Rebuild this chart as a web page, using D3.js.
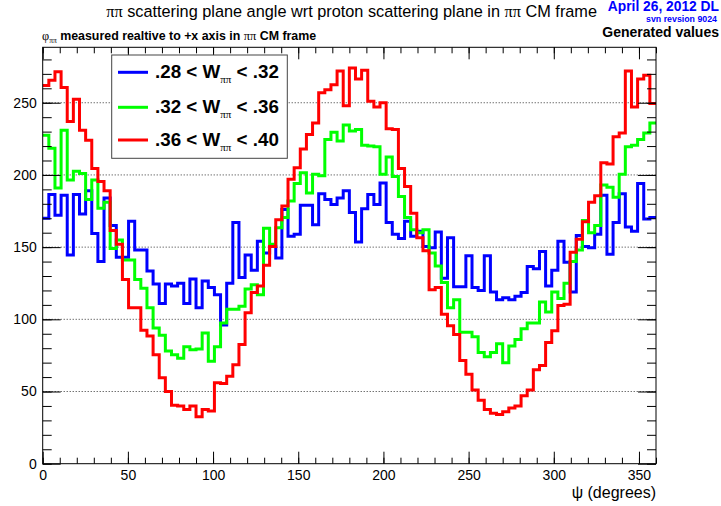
<!DOCTYPE html>
<html>
<head>
<meta charset="utf-8">
<script src="https://cdn.jsdelivr.net/npm/d3@7"></script>
<style>
  body { margin: 0; background: #fff; }
  svg { display: block; font-family: "Liberation Sans", Arial, sans-serif; }
  .axis text { font-size: 14px; fill: #000; }
  .axis line { stroke: #000; }
</style>
</head>
<body>
<script>
// 100 bins of 3.6 degrees, psi from 0 to 360
const nBins = 100
const binWidth = 3.6

const seriesNames = [".28 < W", ".32 < W", ".36 < W"]
const seriesUpper = [" < .32", " < .36", " < .40"]
const seriesColors = ["#0000ff", "#00ff00", "#ff0000"]

const blueCounts = [
  170, 186.5, 172, 186, 144.5, 186.5, 173, 189, 159.5, 140,
  184, 165, 143, 143, 168, 148, 148, 133.5, 124.5, 111,
  124.5, 123, 125, 111, 128, 108, 126.5, 122, 117, 96,
  125, 167, 129, 144.5, 134, 154, 146, 150.5, 142.5, 176,
  157.5, 159, 179, 179, 165.5, 187, 183, 179.5, 184, 189,
  174, 153.5, 176.5, 186.5, 179.5, 194.5, 167, 159, 156, 168,
  157.5, 161, 150.5, 149.5, 160.5, 128.5, 156.5, 122.5, 122.5, 144,
  122, 120, 144, 119, 113.5, 115, 113.5, 116, 118.5, 136.5,
  135, 147, 123, 134, 154, 139.5, 119, 158, 150.5, 149.5,
  159, 186, 145, 167, 187, 164, 161, 194, 169.5, 170.5
]
const greenCounts = [
  227.5, 218.5, 191, 231, 196.5, 202.5, 201, 183, 196.5, 177,
  181, 149, 155, 141, 141, 127.5, 121.5, 108, 94, 89,
  78, 75.5, 73, 81, 79, 79.5, 90.5, 71, 81, 97.5,
  107, 107, 109, 121, 124, 117, 163, 152, 163.5, 170.5,
  182, 194, 201.5, 187.5, 200.5, 199.5, 224.5, 229.5, 223.5, 234.5,
  230.5, 231.5, 220.5, 220, 219.5, 200.5, 212.5, 199, 185, 170.5,
  162, 160, 162, 146, 137, 125.5, 108, 113.5, 91, 91,
  88, 77, 74, 77, 83, 70, 81.5, 86, 93.5, 97.5,
  97.5, 112, 105, 119, 114.5, 125, 140, 148, 168.5, 160,
  165, 193, 191.5, 184.5, 200.5, 219.5, 220.5, 224.5, 229, 236
]
const redCounts = [
  262, 265.5, 271.5, 260.5, 237, 252.5, 231, 224, 204.5, 195.5,
  189, 161.5, 152, 127.5, 108, 108, 92.5, 88.5, 75.5, 59.5,
  50, 40.5, 40, 37.5, 40, 32.5, 37.5, 36.5, 56, 55.5,
  60.5, 68.5, 82.5, 104.5, 118.5, 123, 137.5, 150.5, 169, 178.5,
  197, 205, 218, 228, 236, 257, 259, 262.5, 272, 248,
  274, 266.5, 272.5, 251, 247, 250, 232, 231.5, 204.5, 192,
  173.5, 156.5, 147.5, 120.5, 122, 103.5, 95.5, 89.5, 71.5, 62,
  51, 44, 37.5, 35, 34, 36, 38.5, 40, 47, 51,
  65, 68, 84, 92, 109.5, 110.5, 146.5, 155.5, 167.5, 181,
  185.5, 208.5, 207.5, 226.5, 229, 272, 247, 266.5, 269, 249.5
]

const xMajorTicks = [0, 50, 100, 150, 200, 250, 300, 350]
const yMajorTicks = [0, 50, 100, 150, 200, 250]
const yGridValues = [50, 100, 150, 200, 250]

var W = 721, H = 506
var frame = { left: 42.7, right: 656, top: 47.3, bottom: 463.7 }

var svg = d3.select("body").append("svg")
    .attr("width", W)
    .attr("height", H)

var x = d3.scaleLinear().domain([0, 360]).range([frame.left, frame.right])
var y = d3.scaleLinear().domain([0, 288.4]).range([frame.bottom, frame.top])

// dotted horizontal grid
svg.append("g").selectAll("line")
    .data(yGridValues)
    .enter().append("line")
    .attr("x1", frame.left).attr("x2", frame.right)
    .attr("y1", d => y(d)).attr("y2", d => y(d))
    .attr("stroke", "#333")
    .attr("stroke-width", 1)
    .attr("stroke-dasharray", "1,2")

// histograms as step lines
var step = d3.line()
    .x(d => x(d[0]))
    .y(d => y(d[1]))
    .curve(d3.curveStepAfter)

function binPoints(counts) {
    var pts = counts.map((c, i) => [i * binWidth, c])
    pts.push([nBins * binWidth, counts[counts.length - 1]])
    return pts
}

;[blueCounts, greenCounts, redCounts].forEach((counts, i) => {
    svg.append("path")
        .datum(binPoints(counts))
        .attr("fill", "none")
        .attr("stroke", seriesColors[i])
        .attr("stroke-width", 3)
        .attr("d", step)
})

// axes, ticks point inward like ROOT
function clean(g) { g.select(".domain").remove() }

svg.append("g")
    .attr("class", "axis")
    .attr("transform", "translate(0," + frame.bottom + ")")
    .call(d3.axisBottom(x).tickValues(d3.range(0, 361, 10)).tickSize(-6).tickFormat(""))
    .call(clean)
svg.append("g")
    .attr("class", "axis")
    .attr("transform", "translate(0," + frame.bottom + ")")
    .call(d3.axisBottom(x).tickValues(xMajorTicks).tickSize(-12).tickPadding(6))
    .call(clean)
svg.append("g")
    .attr("class", "axis")
    .attr("transform", "translate(0," + frame.top + ")")
    .call(d3.axisTop(x).tickValues(d3.range(0, 361, 10)).tickSize(-6).tickFormat(""))
    .call(clean)
svg.append("g")
    .attr("class", "axis")
    .attr("transform", "translate(0," + frame.top + ")")
    .call(d3.axisTop(x).tickValues(xMajorTicks).tickSize(-12).tickFormat(""))
    .call(clean)

svg.append("g")
    .attr("class", "axis")
    .attr("transform", "translate(" + frame.left + ",0)")
    .call(d3.axisLeft(y).tickValues(d3.range(0, 281, 10)).tickSize(-9).tickFormat(""))
    .call(clean)
svg.append("g")
    .attr("class", "axis")
    .attr("transform", "translate(" + frame.left + ",0)")
    .call(d3.axisLeft(y).tickValues(yMajorTicks).tickSize(-18).tickPadding(6))
    .call(clean)
svg.append("g")
    .attr("class", "axis")
    .attr("transform", "translate(" + frame.right + ",0)")
    .call(d3.axisRight(y).tickValues(d3.range(0, 281, 10)).tickSize(-9).tickFormat(""))
    .call(clean)
svg.append("g")
    .attr("class", "axis")
    .attr("transform", "translate(" + frame.right + ",0)")
    .call(d3.axisRight(y).tickValues(yMajorTicks).tickSize(-18).tickFormat(""))
    .call(clean)

// frame
svg.append("rect")
    .attr("x", frame.left).attr("y", frame.top)
    .attr("width", frame.right - frame.left)
    .attr("height", frame.bottom - frame.top)
    .attr("fill", "none")
    .attr("stroke", "#000")
    .attr("stroke-width", 1)

// x axis title
svg.append("text")
    .attr("x", frame.right).attr("y", 498)
    .attr("text-anchor", "end")
    .attr("font-size", 16)
    .text("\u03c8 (degrees)")

// main title
var title = svg.append("text")
    .attr("x", 597).attr("y", 17)
    .attr("text-anchor", "end")
    .attr("font-size", 16.3)
title.append("tspan").attr("font-family", "Liberation Serif, serif").text("\u03c0\u03c0")
title.append("tspan").text(" scattering plane angle wrt proton scattering plane in ")
title.append("tspan").attr("font-family", "Liberation Serif, serif").text("\u03c0\u03c0")
title.append("tspan").text(" CM frame")

// y axis title (top left)
var ytitle = svg.append("text")
    .attr("x", 42).attr("y", 40)
    .attr("font-size", 12.4)
    .attr("font-weight", "bold")
ytitle.append("tspan").attr("font-family", "Liberation Serif, serif").attr("font-weight", "normal").text("\u03c6")
ytitle.append("tspan").attr("dy", 3).attr("font-size", 7.5).attr("font-family", "Liberation Serif, serif").attr("font-weight", "normal").text("\u03c0\u03c0")
ytitle.append("tspan").attr("dy", -3).text(" measured realtive to +x axis in ")
ytitle.append("tspan").attr("font-family", "Liberation Serif, serif").attr("font-weight", "normal").text("\u03c0\u03c0")
ytitle.append("tspan").text(" CM frame")

// date stamp
svg.append("text")
    .attr("x", 719).attr("y", 11)
    .attr("text-anchor", "end")
    .attr("font-size", 13.8).attr("font-weight", "bold")
    .attr("fill", "#0000ff")
    .text("April 26, 2012 DL")
svg.append("text")
    .attr("x", 717).attr("y", 22.2)
    .attr("text-anchor", "end")
    .attr("font-size", 8.8).attr("font-weight", "bold")
    .attr("fill", "#0000ff")
    .text("svn revsion 9024")
svg.append("text")
    .attr("x", 719).attr("y", 37)
    .attr("text-anchor", "end")
    .attr("font-size", 14).attr("font-weight", "bold")
    .text("Generated values")

// legend
var legend = { x: 111.7, y: 55, w: 175.6, h: 103.3 }
svg.append("rect")
    .attr("x", legend.x).attr("y", legend.y)
    .attr("width", legend.w).attr("height", legend.h)
    .attr("fill", "#fff")
    .attr("stroke", "#444")
    .attr("stroke-width", 1)

var rowY = [72.3, 107.3, 140]
seriesNames.forEach((name, i) => {
    svg.append("line")
        .attr("x1", 118).attr("x2", 148)
        .attr("y1", rowY[i]).attr("y2", rowY[i])
        .attr("stroke", seriesColors[i])
        .attr("stroke-width", 3)
    var t = svg.append("text")
        .attr("x", 155).attr("y", rowY[i] + 6)
        .attr("font-size", 18.8).attr("font-weight", "bold")
    t.append("tspan").text(name)
    t.append("tspan").attr("dy", 5).attr("font-size", 11)
        .attr("font-family", "Liberation Serif, serif").attr("font-weight", "normal")
        .text("\u03c0\u03c0")
    t.append("tspan").attr("dy", -5).text(seriesUpper[i])
})
</script>
</body>
</html>
